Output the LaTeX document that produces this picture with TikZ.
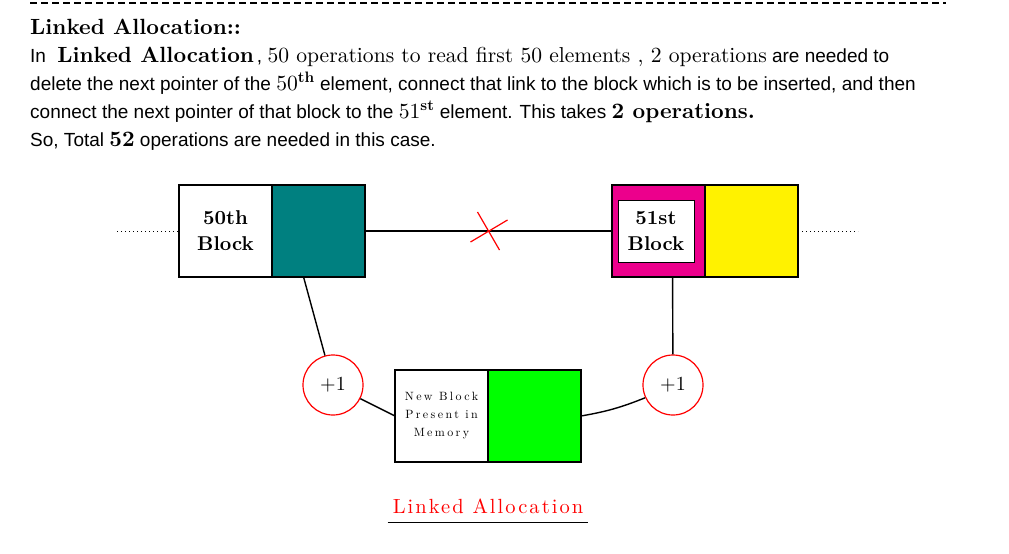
\documentclass[tikz,border=0pt]{standalone}
\usepackage{fontspec}
\setmainfont[BoldFont=lmroman10-bold.otf, ItalicFont=lmroman10-italic.otf]{lmroman10-regular.otf}
\setsansfont{Liberation Sans}
\newfontfamily\spacedrm[LetterSpace=20]{lmroman10-regular.otf}
\newfontfamily\capfont[LetterSpace=10]{lmroman10-regular.otf}
\usetikzlibrary{positioning,calc}

\definecolor{blockteal}{RGB}{0,128,128}
\definecolor{blockmagenta}{RGB}{236,0,140}
\definecolor{blockyellow}{RGB}{255,242,0}
\definecolor{blockgreen}{RGB}{0,255,0}

% serif pieces inside the sans text
\newcommand{\serifbit}[1]{{\rmfamily\fontsize{21.6}{22}\selectfont #1}}
\newcommand{\boldbit}[1]{{\rmfamily\bfseries\fontsize{22}{22}\selectfont #1}}

\begin{document}
\begin{tikzpicture}[x=1pt, y=-1pt,
        cell/.style={draw, line width=1.2pt, minimum width=93pt, minimum height=92pt,
          inner sep=0pt, outer sep=0pt, anchor=north west},
        plus/.style={draw=red, circle, line width=1.2pt, minimum size=60pt, inner sep=0pt,
          font=\rmfamily\fontsize{20}{20}\selectfont},
        link/.style={line width=1.4pt},
        dots/.style={line width=1pt, dash pattern=on 1.2pt off 2.8pt},
        textline/.style={anchor=base west, inner sep=0pt, font=\sffamily\fontsize{19}{19}\selectfont}]

        \useasboundingbox (0,0) rectangle (1009,554);

        %%% Text above the picture
        \draw[line width=2pt, dash pattern=on 7pt off 4pt] (30,3) -- (946,3);
        \node[textline] (title) at (30,34) {\boldbit{Linked Allocation::}};
        \node[textline] (lineA) at (30,62) {In \hspace{6pt}\boldbit{Linked Allocation}\hspace{3pt}, \serifbit{50 operations to read first 50 elements , 2 operations} are needed to};
        \node[textline] (lineB) at (30,90) {delete the next pointer of the \serifbit{50\textsuperscript{\bfseries th}} element, connect that link to the block which is to be inserted, and then};
        \node[textline] (lineC) at (30,118) {connect the next pointer of that block to the \serifbit{51\textsuperscript{\bfseries st}} element. This takes \boldbit{2 operations.}};
        \node[textline] (lineD) at (30,146) {So, Total \boldbit{52} operations are needed in this case.};

        %%% 50th block
        \node[cell, fill=white, align=center, font=\rmfamily\bfseries\fontsize{20}{26}\selectfont] (b50text) at (179,185) {50th\\Block};
        \node[cell, fill=blockteal, right=0pt of b50text] (b50ptr) {};

        %%% 51st block
        \node[cell, fill=blockmagenta] (b51text) at (612,185) {};
        \node[draw, fill=white, line width=1pt, minimum width=76pt, minimum height=62pt, inner sep=0pt,
          align=center, font=\rmfamily\bfseries\fontsize{20}{26}\selectfont] (b51label)
          at ([xshift=-2.5pt]b51text.center) {51st\\Block};
        \node[cell, fill=blockyellow, right=0pt of b51text] (b51ptr) {};

        %%% New block
        \node[cell, fill=white, align=center, font=\spacedrm\fontsize{12}{18}\selectfont] (newtext) at (395,370) {New Block\\Present in\\Memory};
        \node[cell, fill=blockgreen, right=0pt of newtext] (newptr) {};

        % one operation each
        \node[plus] (plusL) at (333,385) {+1};
        \node[plus] (plusR) at (673,385) {+1};

        %%% Links
        \coordinate (leftend) at (117,231);
        \coordinate (rightend) at (858,231);
        \draw[dots] (leftend) -- (b50text.west);
        \draw[dots] (b51ptr.east) -- (rightend);

        \draw[link] (b50ptr.east) -- (b51text.west);
        % the old link is cut
        \coordinate (cut) at ($(b50ptr.east)!0.5!(b51text.west)$);
        \draw[red, line width=1.2pt] ([shift={(-11,-19)}]cut) -- ([shift={(11,19)}]cut);
        \draw[red, line width=1.2pt] ([shift={(-18,11)}]cut) -- ([shift={(19,-11)}]cut);

        \draw[link] (b50ptr.252) -- (plusL);
        \draw[link] (plusL) -- (newtext.west);
        \draw[link] (newptr.east) to[bend right=6] (plusR);
        \draw[link] (b51text.287) -- (plusR);

        %%% Caption
        \node[red, anchor=base, inner xsep=5pt, inner ysep=9pt,
          font=\capfont\fontsize{20.5}{20.5}\selectfont] (caption) at (488,513) {Linked Allocation};
        \draw[line width=1.5pt] (caption.south west) -- (caption.south east);
\end{tikzpicture}
\end{document}
